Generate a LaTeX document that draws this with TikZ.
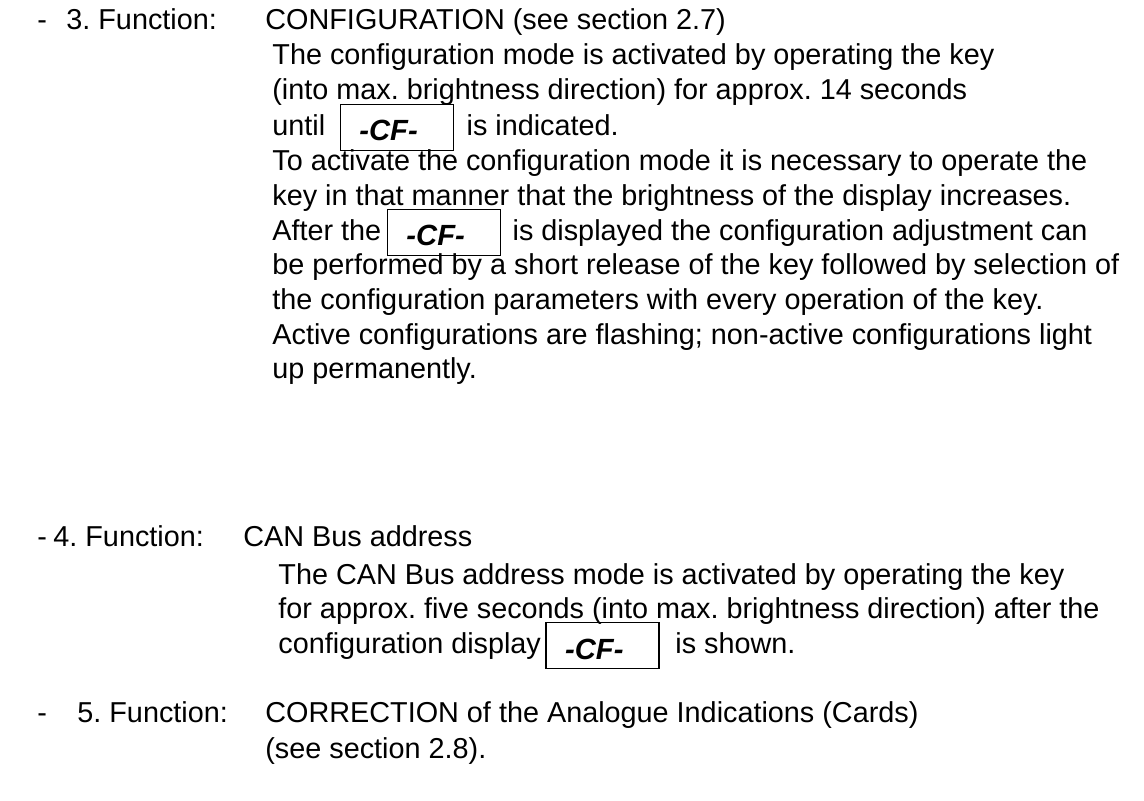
\documentclass[tikz,border=0pt]{standalone}
\usepackage{fontspec}
\setmainfont{Liberation Sans}
\usetikzlibrary{positioning,calc}
\frenchspacing

\tikzset{
  txt/.style={anchor=base west, inner sep=0pt, font=\fontsize{14.4pt}{17pt}\selectfont},
  cfbox/.style={draw, line width=0.8pt, anchor=west, inner xsep=9.5pt, inner ysep=0pt,
    text width=37.5pt, align=left, minimum height=23pt, text height=13.5pt, text depth=0pt,
    font=\fontsize{14.6pt}{16pt}\selectfont\bfseries\itshape},
}

\begin{document}
\begin{tikzpicture}[x=0.5pt,y=-0.5pt]
        \useasboundingbox (0,0) rectangle (1144,801);

        % 3. Function
        \node[txt] (dashA) at (37,29.5) {-};
        \node[txt] (funA) at (66,29.5) {3. Function:};
        \node[txt] (headA) at (265,29.5) {CONFIGURATION (see section 2.7)};
        \node[txt] (lineAa) at (272,64.5) {The configuration mode is activated by operating the key};
        \node[txt] (lineAb) at (272,100) {(into max. brightness direction) for approx. 14 seconds};
        \node[txt] (lineAc) at (272,135.5) {until};
        \node[cfbox] (cfA) at ($(lineAc.base east)+(14,-8)$) {-CF-};
        \node[txt] (lineAd) at ($(cfA.east)+(12,8)$) {is indicated.};
        \node[txt] (lineAe) at (272,170.5) {To activate the configuration mode it is necessary to operate the};
        \node[txt] (lineAf) at (272,205.5) {key in that manner that the brightness of the display increases.};
        \node[txt] (lineAg) at (272,240.5) {After the};
        \node[cfbox] (cfB) at ($(lineAg.base east)+(5,-8)$) {-CF-};
        \node[txt] (lineAh) at ($(cfB.east)+(11,8)$) {is displayed the configuration adjustment can};
        \node[txt] (lineAi) at (272,274.5) {be performed by a short release of the key followed by selection of};
        \node[txt] (lineAj) at (272,309.5) {the configuration parameters with every operation of the key.};
        \node[txt] (lineAk) at (272,344.5) {Active configurations are flashing; non-active configurations light};
        \node[txt] (lineAl) at (272,378.5) {up permanently.};

        % 4. Function
        \node[txt] (dashB) at (37,546.5) {-};
        \node[txt] (funB) at (53,546.5) {4. Function:};
        \node[txt] (headB) at (243,546.5) {CAN Bus address};
        \node[txt] (lineBa) at (278,584.5) {The CAN Bus address mode is activated by operating the key};
        \node[txt] (lineBb) at (278,618.5) {for approx. five seconds (into max. brightness direction) after the};
        \node[txt] (lineBc) at (278,653.5) {configuration display};
        \node[cfbox] (cfC) at ($(lineBc.base east)+(4,-8)$) {-CF-};
        \node[txt] (lineBd) at ($(cfC.east)+(15,8)$) {is shown.};

        % 5. Function
        \node[txt] (dashC) at (37,722.5) {-};
        \node[txt] (funC) at (77,722.5) {5. Function:};
        \node[txt] (headC) at (265,722.5) {CORRECTION of the Analogue Indications (Cards)};
        \node[txt] (lineCa) at (265,758.5) {(see section 2.8).};
    \end{tikzpicture}
\end{document}
